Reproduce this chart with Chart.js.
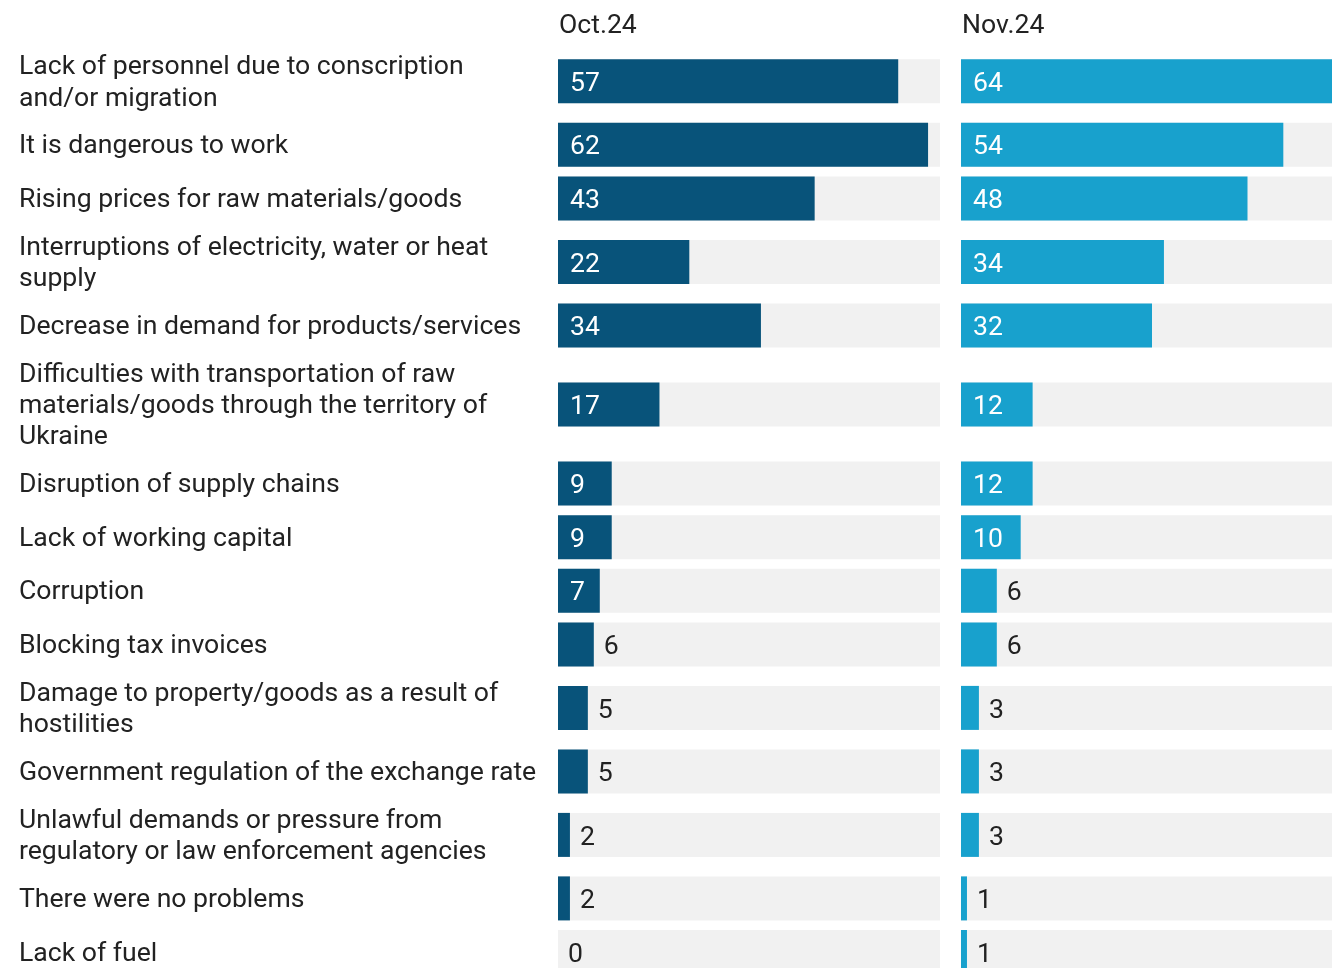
<!DOCTYPE html>
<html>
<head>
<meta charset="utf-8">
<title>Problems faced by businesses</title>
<script src="https://cdn.jsdelivr.net/npm/chart.js@4.4.1/dist/chart.umd.min.js"></script>
<style>
  html, body { margin: 0; padding: 0; background: #fff; overflow: hidden; }
  body { width: 1332px; height: 968px; position: relative; font-family: Roboto, sans-serif; }
  .panel { position: absolute; top: 0; height: 968px; }
  #octPanel { left: 0; width: 940px; }
  #novPanel { left: 961px; width: 382px; }
</style>
</head>
<body>
<div class="panel" id="octPanel"><canvas id="octChart"></canvas></div>
<div class="panel" id="novPanel"><canvas id="novChart"></canvas></div>
<script>
const categories = [
  ['Lack of personnel due to conscription', 'and/or migration'],
  ['It is dangerous to work'],
  ['Rising prices for raw materials/goods'],
  ['Interruptions of electricity, water or heat', 'supply'],
  ['Decrease in demand for products/services'],
  ['Difficulties with transportation of raw', 'materials/goods through the territory of', 'Ukraine'],
  ['Disruption of supply chains'],
  ['Lack of working capital'],
  ['Corruption'],
  ['Blocking tax invoices'],
  ['Damage to property/goods as a result of', 'hostilities'],
  ['Government regulation of the exchange rate'],
  ['Unlawful demands or pressure from', 'regulatory or law enforcement agencies'],
  ['There were no problems'],
  ['Lack of fuel']
];
const periods = ['Oct.24', 'Nov.24'];
const oct24 = [57, 62, 43, 22, 34, 17, 9, 9, 7, 6, 5, 5, 2, 2, 0];
const nov24 = [64, 54, 48, 34, 32, 12, 12, 10, 6, 6, 3, 3, 3, 1, 1];
const axisMax = 64;

const TEXT_COLOR = '#222';
const TRACK_COLOR = '#f1f1f1';
const FONT = '26.6px Roboto';
const LINE_H = 31.2;
const TEXT_SHIFT = 2; // nudge text down a little from the em-box middle

// rows get taller with the number of label lines, the y scale runs in pixels top-down
const rowCenters = [];
let rowTop = 44.6;
categories.forEach(lines => {
  const h = lines.length === 1 ? 53.6 : lines.length * LINE_H + 11;
  rowCenters.push(rowTop + h / 2);
  rowTop += h;
});

// period title above the bars, row labels on the left (first panel only)
const textPlugin = {
  id: 'panelText',
  afterDraw(chart, args, opts) {
    const ctx = chart.ctx;
    const yScale = chart.scales.y;
    ctx.save();
    ctx.fillStyle = TEXT_COLOR;
    ctx.textAlign = 'left';
    ctx.textBaseline = 'alphabetic';
    ctx.font = FONT;
    ctx.fillText(opts.title, chart.chartArea.left + 1, 33);

    if (opts.showLabels) {
      ctx.textBaseline = 'middle';
      categories.forEach((lines, i) => {
        const cy = yScale.getPixelForValue(rowCenters[i]) + TEXT_SHIFT;
        lines.forEach((line, j) => {
          ctx.fillText(line, 19, cy + (j - (lines.length - 1) / 2) * LINE_H);
        });
      });
    }
    ctx.restore();
  }
};

// value labels: white inside the bar when they fit, dark after it otherwise
const valuePlugin = {
  id: 'barValues',
  afterDatasetsDraw(chart) {
    const ctx = chart.ctx;
    const meta = chart.getDatasetMeta(0);
    const values = chart.data.datasets[0].data;
    ctx.save();
    ctx.font = FONT;
    ctx.textBaseline = 'middle';
    ctx.textAlign = 'left';
    meta.data.forEach((bar, i) => {
      const text = String(values[i].x);
      const w = ctx.measureText(text).width;
      const barW = bar.x - bar.base;
      const y = bar.y + TEXT_SHIFT + 1;
      if (barW >= w + 24) {
        ctx.fillStyle = '#fff';
        ctx.fillText(text, bar.base + 12, y);
      } else {
        ctx.fillStyle = TEXT_COLOR;
        ctx.fillText(text, bar.x + 10, y);
      }
    });
    ctx.restore();
  }
};

function makeChart(canvasId, title, values, color, showLabels) {
  const ctx = document.getElementById(canvasId).getContext('2d');
  return new Chart(ctx, {
    type: 'bar',
    data: {
      datasets: [
        {
          data: values.map((v, i) => ({ x: v, y: rowCenters[i] })),
          backgroundColor: color,
          order: 1
        },
        {
          // grey track behind every bar
          data: values.map((v, i) => ({ x: axisMax, y: rowCenters[i] })),
          backgroundColor: TRACK_COLOR,
          order: 2
        }
      ]
    },
    options: {
      indexAxis: 'y',
      responsive: true,
      maintainAspectRatio: false,
      animation: false,
      layout: { padding: { left: showLabels ? 558 : 0, right: 0, top: 0, bottom: 0 } },
      datasets: {
        bar: { grouped: false, barThickness: 44, borderWidth: 0, inflateAmount: 0 }
      },
      scales: {
        x: { type: 'linear', min: 0, max: axisMax, display: false },
        y: { type: 'linear', min: 0, max: 968, reverse: true, offset: false, display: false }
      },
      plugins: {
        legend: { display: false },
        tooltip: { enabled: false },
        panelText: { title: title, showLabels: showLabels }
      }
    },
    plugins: [textPlugin, valuePlugin]
  });
}

const octChart = makeChart('octChart', periods[0], oct24, '#08537a', true);
const novChart = makeChart('novChart', periods[1], nov24, '#18a1cd', false);
</script>
</body>
</html>
